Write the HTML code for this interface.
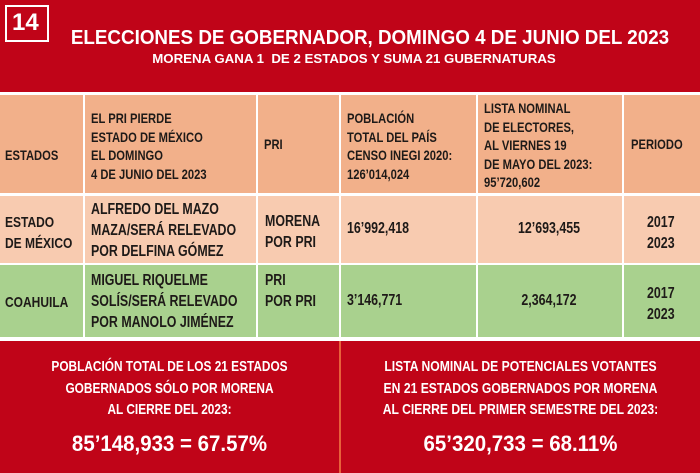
<!DOCTYPE html>
<html><head><meta charset="utf-8"><style>
*{margin:0;padding:0;box-sizing:border-box}
body{width:700px;height:473px;overflow:hidden;background:#fff;font-family:"Liberation Sans",sans-serif;font-weight:bold;position:relative}
.a{position:absolute}
.t{position:absolute;color:#1e1a18;font-size:14px;line-height:17.5px;transform:scaleX(.8);transform-origin:left top;white-space:nowrap}
.c{transform-origin:center top;text-align:center}
.w{color:#fff}
</style></head><body>
<div class="a" style="left:0;top:0;width:700px;height:92px;background:#c00418"></div>
<div class="a" style="left:5px;top:5px;width:44px;height:37px;border:2px solid #fff;background:#c00418"></div>
<div class="t w" style="left:12px;top:10px;font-size:24px;line-height:26px;transform:none">14</div>
<div class="t w c" style="left:0;top:26px;width:740px;font-size:20px;line-height:24px;transform:scaleX(.94)">ELECCIONES DE GOBERNADOR, DOMINGO 4 DE JUNIO DEL 2023</div>
<div class="t w c" style="left:0;top:51px;width:708px;font-size:13px;line-height:15px;transform:scaleX(1.02)">MORENA GANA 1&nbsp; DE 2 ESTADOS Y SUMA 21 GUBERNATURAS</div>

<div class="a" style="left:0;top:95px;width:700px;height:98px;background:#f2b08a"></div>
<div class="a" style="left:0;top:196px;width:700px;height:67px;background:#f8cbb0"></div>
<div class="a" style="left:0;top:265px;width:700px;height:72px;background:#a9d18e"></div>
<div class="a" style="left:83px;top:95px;width:2px;height:242px;background:#fff"></div>
<div class="a" style="left:256px;top:95px;width:2px;height:242px;background:#fff"></div>
<div class="a" style="left:339px;top:95px;width:2px;height:242px;background:#fff"></div>
<div class="a" style="left:476px;top:95px;width:2px;height:242px;background:#fff"></div>
<div class="a" style="left:622px;top:95px;width:2px;height:242px;background:#fff"></div>

<div class="t" style="left:5px;top:147px">ESTADOS</div>
<div class="t" style="left:91px;top:109px;line-height:18.5px">EL PRI PIERDE<br>ESTADO DE MÉXICO<br>EL DOMINGO<br>4 DE JUNIO DEL 2023</div>
<div class="t" style="left:264px;top:136px">PRI</div>
<div class="t" style="left:347px;top:109px;line-height:18.5px">POBLACIÓN<br>TOTAL DEL PAÍS<br>CENSO INEGI 2020:<br>126’014,024</div>
<div class="t" style="left:484px;top:99px;line-height:18.5px">LISTA NOMINAL<br>DE ELECTORES,<br>AL VIERNES 19<br>DE MAYO DEL 2023:<br>95’720,602</div>
<div class="t" style="left:631px;top:136px">PERIODO</div>

<div class="t" style="left:5px;top:212px;font-size:15px;line-height:21px">ESTADO<br>DE MÉXICO</div>
<div class="t" style="left:91px;top:199px;font-size:15.5px;line-height:21px">ALFREDO DEL MAZO<br>MAZA/SERÁ RELEVADO<br>POR DELFINA GÓMEZ</div>
<div class="t" style="left:265px;top:211px;font-size:15.5px;line-height:21px">MORENA<br>POR PRI</div>
<div class="t" style="left:347px;top:220px;font-size:15.5px">16’992,418</div>
<div class="t c" style="left:476px;top:220px;width:146px;font-size:15.5px">12’693,455</div>
<div class="t" style="left:647px;top:212px;font-size:15.5px;line-height:21px">2017<br>2023</div>

<div class="t" style="left:5px;top:294px;font-size:15px">COAHUILA</div>
<div class="t" style="left:91px;top:270px;font-size:15.5px;line-height:21px">MIGUEL RIQUELME<br>SOLÍS/SERÁ RELEVADO<br>POR MANOLO JIMÉNEZ</div>
<div class="t" style="left:265px;top:270px;font-size:15.5px;line-height:21px">PRI<br>POR PRI</div>
<div class="t" style="left:347px;top:292px;font-size:15.5px">3’146,771</div>
<div class="t c" style="left:476px;top:292px;width:146px;font-size:15.5px">2,364,172</div>
<div class="t" style="left:647px;top:283px;font-size:15.5px;line-height:21px">2017<br>2023</div>

<div class="a" style="left:0;top:341px;width:700px;height:132px;background:#c00418"></div>
<div class="a" style="left:339px;top:341px;width:2px;height:132px;background:#e8603a"></div>
<div class="t w c" style="left:0;top:356px;width:339px;font-size:15px;line-height:21.5px;transform:scaleX(.79)">POBLACIÓN TOTAL DE LOS 21 ESTADOS<br>GOBERNADOS SÓLO POR MORENA<br>AL CIERRE DEL 2023:</div>
<div class="t w c" style="left:0;top:431px;width:339px;font-size:22px;line-height:25px;transform:scaleX(.93)">85’148,933 = 67.57%</div>
<div class="t w c" style="left:341px;top:356px;width:359px;font-size:15px;line-height:21.5px;transform:scaleX(.81)">LISTA NOMINAL DE POTENCIALES VOTANTES<br>EN 21 ESTADOS GOBERNADOS POR MORENA<br>AL CIERRE DEL PRIMER SEMESTRE DEL 2023:</div>
<div class="t w c" style="left:341px;top:431px;width:359px;font-size:22px;line-height:25px;transform:scaleX(.93)">65’320,733 = 68.11%</div>
</body></html>
